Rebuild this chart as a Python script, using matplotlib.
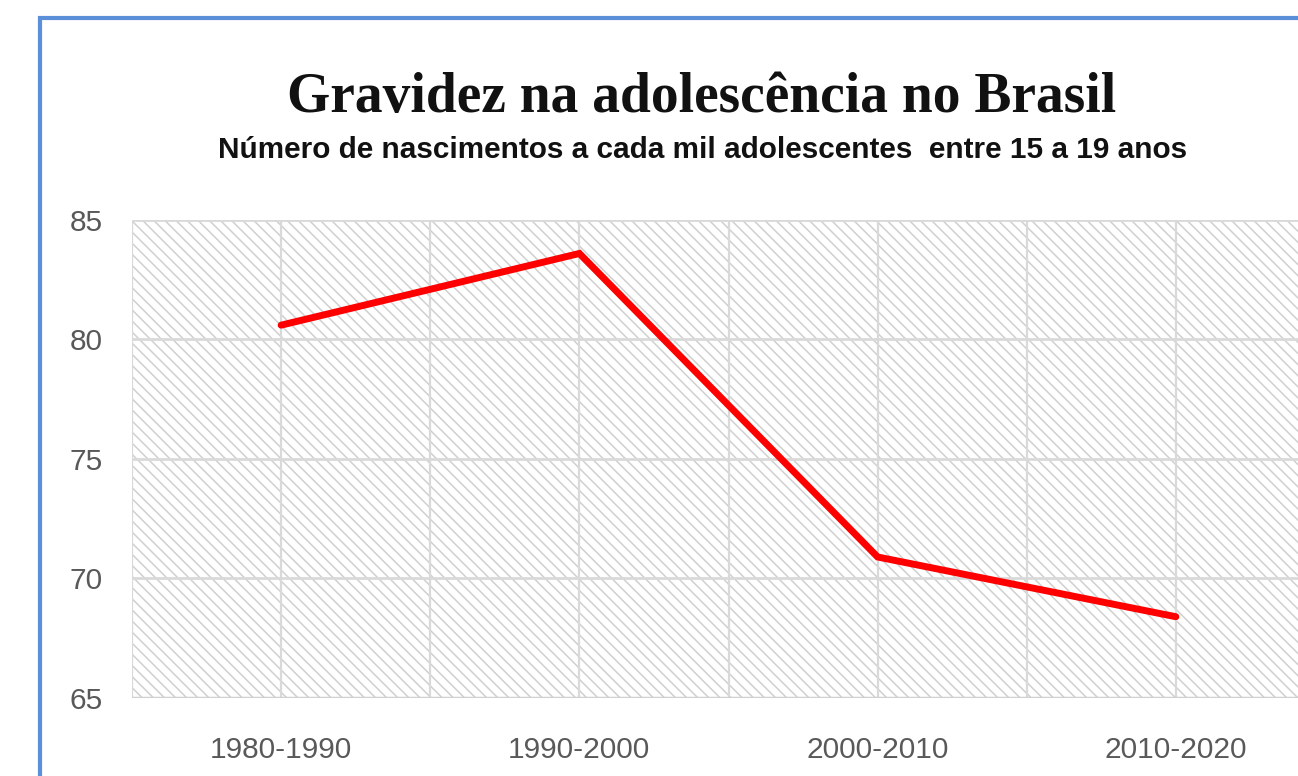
import matplotlib.pyplot as plt
from matplotlib.patches import Rectangle

# Data
periods = ["1980-1990", "1990-2000", "2000-2010", "2010-2020"]
births_per_1000 = [80.6, 83.6, 70.9, 68.4]
y_ticks = [65, 70, 75, 80, 85]

plt.rcParams['hatch.linewidth'] = 1.1

fig = plt.figure(figsize=(12.98, 7.76), dpi=100)

# blue frame of the chart box (cut off on the right and bottom)
fig.patches.append(Rectangle((40 / 1298, -0.1), 2.0, (776 - 18) / 776 + 0.1,
                             transform=fig.transFigure, fill=False,
                             edgecolor='#5b8fd9', linewidth=3))

ax = fig.add_axes([132 / 1298, 78 / 776, 1193 / 1298, 478 / 776])
ax.set_xlim(-0.5, len(periods) - 0.5)
ax.set_ylim(65, 85)

# hatched plot area
ax.add_patch(Rectangle((-0.5, 65), len(periods), 20, facecolor='white',
                       edgecolor='#d0d0d0', linewidth=0, hatch='\\\\\\',
                       zorder=0))

grid_c = '#d9d9d9'
for y in y_ticks:
    ax.axhline(y, color=grid_c, linewidth=2, zorder=1)
for i in range(len(periods) * 2 + 1):
    ax.axvline(-0.5 + i * 0.5, color=grid_c, linewidth=1.6, zorder=1)

ax.plot(range(len(periods)), births_per_1000, color='#ff0000', linewidth=5,
        solid_capstyle='round', solid_joinstyle='miter', zorder=3)

for s in ax.spines.values():
    s.set_visible(False)
ax.axhline(65, color='#d0d0d0', linewidth=2.5, zorder=2)

ax.set_xticks(range(len(periods)))
ax.set_xticklabels(periods)
ax.set_yticks(y_ticks)
ax.tick_params(length=0, labelsize=21.5, labelcolor='#595959')
ax.tick_params(axis='y', pad=21)
ax.tick_params(axis='x', pad=27)
for lab in ax.get_xticklabels() + ax.get_yticklabels():
    lab.set_fontfamily('Liberation Sans')

fig.text(702 / 1298, 1 - 98 / 776, "Gravidez na adolescência no Brasil",
         ha='center', va='center', fontsize=40, fontweight='bold',
         family='Liberation Serif', color='#111111')
fig.text(703 / 1298, 1 - 150 / 776,
         "Número de nascimentos a cada mil adolescentes  entre 15 a 19 anos",
         ha='center', va='center', fontsize=21.4, fontweight='bold',
         family='Liberation Sans', color='#111111')

fig.savefig("out.png", dpi=100)
